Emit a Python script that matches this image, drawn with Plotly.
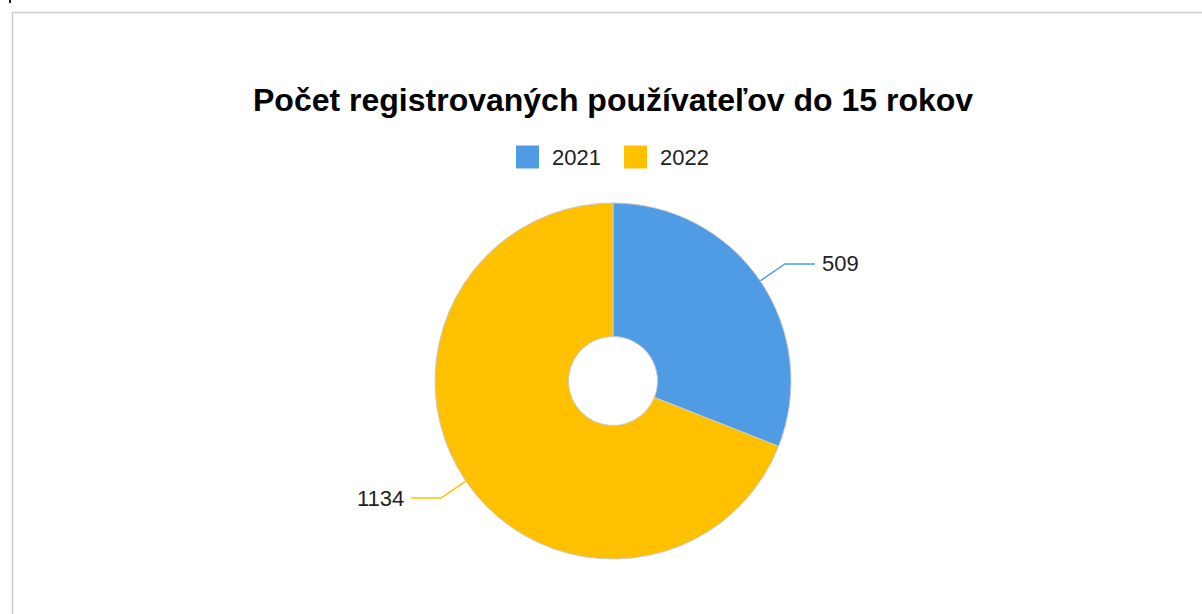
import math
import plotly.graph_objects as go

# ---- data ----
categories = ["2021", "2022"]
values = [509, 1134]
colors = ["#4f9be4", "#ffc000"]
title_text = "Počet registrovaných používateľov do 15 rokov"

# ---- layout constants (pixels) ----
W, H = 1202, 614
CX, CY, R = 613, 381, 178
HOLE = 0.25
LEAD_OUT = 30      # radial extension of leader line
LEAD_H = 30        # horizontal part of leader line
FONT = "Liberation Sans, Arial, sans-serif"
legend_sq_x = [516, 624]
legend_txt_x = [550, 658]
legend_y = 157
legend_sq = 23

fig = go.Figure()

fig.add_trace(go.Pie(
    labels=categories, values=values, sort=False, direction="clockwise",
    rotation=0, hole=HOLE, textinfo="none", hoverinfo="label+value",
    marker=dict(colors=colors, line=dict(color="#c9c9c9", width=1)),
    domain=dict(x=[(CX - R) / W, (CX + R) / W],
                y=[1 - (CY + R) / H, 1 - (CY - R) / H]),
    showlegend=False,
))

# leader lines + labels computed from the data
total = sum(values)
cum = 0
annotations = []
for cat, v, col in zip(categories, values, colors):
    mid = (cum + v / 2) / total * 2 * math.pi
    cum += v
    sx, sy = math.sin(mid), -math.cos(mid)
    p0 = (CX + R * sx, CY + R * sy)
    p1 = (CX + (R + LEAD_OUT) * sx, CY + (R + LEAD_OUT) * sy)
    side = 1 if sx >= 0 else -1
    p2 = (p1[0] + side * LEAD_H, p1[1])
    fig.add_trace(go.Scatter(
        x=[p0[0], p1[0], p2[0]], y=[p0[1], p1[1], p2[1]],
        mode="lines", line=dict(color=col, width=1.5),
        hoverinfo="skip", showlegend=False, xaxis="x", yaxis="y"))
    annotations.append(dict(
        x=p2[0] + side * 5, y=p2[1], xref="x", yref="y", text=str(v),
        showarrow=False, xanchor="left" if side > 0 else "right",
        yanchor="middle", font=dict(family=FONT, size=22, color="#222222")))

# legend drawn as squares + text
shapes = []
for cat, col, sx_, tx in zip(categories, colors, legend_sq_x, legend_txt_x):
    shapes.append(dict(type="rect", xref="x", yref="y",
                       x0=sx_, x1=sx_ + legend_sq,
                       y0=legend_y - legend_sq / 2, y1=legend_y + legend_sq / 2,
                       fillcolor=col, line=dict(width=0)))
    annotations.append(dict(x=tx, y=legend_y, xref="x", yref="y", text=cat,
                            showarrow=False, xanchor="left", yanchor="middle",
                            font=dict(family=FONT, size=22, color="#222222")))

# frame
shapes.append(dict(type="rect", xref="x", yref="y", x0=12.5, y0=12.5,
                   x1=W + 50, y1=H + 50, line=dict(color="#cccccc", width=1.5),
                   fillcolor="rgba(0,0,0,0)", layer="below"))
# small mark top-left
shapes.append(dict(type="rect", xref="x", yref="y", x0=9, y0=0, x1=11, y1=3,
                   fillcolor="#222222", line=dict(width=0)))

annotations.append(dict(x=CX, y=100, xref="x", yref="y", text="<b>" + title_text + "</b>",
                        showarrow=False, xanchor="center", yanchor="middle",
                        font=dict(family=FONT, size=32, color="#000000")))

fig.update_layout(
    width=W, height=H, margin=dict(l=0, r=0, t=0, b=0),
    paper_bgcolor="white", plot_bgcolor="rgba(0,0,0,0)",
    xaxis=dict(range=[0, W], visible=False, fixedrange=True, domain=[0, 1]),
    yaxis=dict(range=[H, 0], visible=False, fixedrange=True, domain=[0, 1]),
    shapes=shapes, annotations=annotations, showlegend=False,
)

fig.write_html("out.html", config={"displayModeBar": False},
               post_script="document.body.style.margin='0';document.body.style.overflow='hidden';")
